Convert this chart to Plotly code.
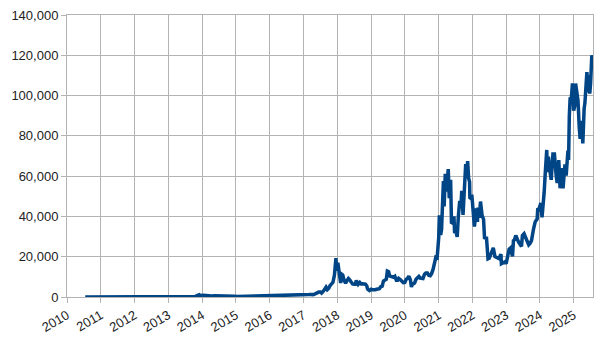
import plotly.graph_objects as go

# Monthly values 2010-07 .. 2016-12 (USD)
early_months = [
    "2010-07-17", "2010-08-15", "2010-09-15", "2010-10-15", "2010-11-15", "2010-12-15",
    "2011-01-15", "2011-02-15", "2011-03-15", "2011-04-15", "2011-05-15", "2011-06-10",
    "2011-07-15", "2011-08-15", "2011-09-15", "2011-10-15", "2011-11-15", "2011-12-15",
    "2012-01-15", "2012-02-15", "2012-03-15", "2012-04-15", "2012-05-15", "2012-06-15",
    "2012-07-15", "2012-08-15", "2012-09-15", "2012-10-15", "2012-11-15", "2012-12-15",
    "2013-01-15", "2013-02-15", "2013-03-15", "2013-04-10", "2013-05-15", "2013-06-15",
    "2013-07-15", "2013-08-15", "2013-09-15", "2013-10-15", "2013-11-30", "2013-12-15",
    "2014-01-15", "2014-02-15", "2014-03-15", "2014-04-15", "2014-05-15", "2014-06-15",
    "2014-07-15", "2014-08-15", "2014-09-15", "2014-10-15", "2014-11-15", "2014-12-15",
    "2015-01-15", "2015-02-15", "2015-03-15", "2015-04-15", "2015-05-15", "2015-06-15",
    "2015-07-15", "2015-08-15", "2015-09-15", "2015-10-15", "2015-11-15", "2015-12-15",
    "2016-01-15", "2016-02-15", "2016-03-15", "2016-04-15", "2016-05-15", "2016-06-15",
    "2016-07-15", "2016-08-15", "2016-09-15", "2016-10-15", "2016-11-15", "2016-12-15",
]
early_prices = [
    0.07, 0.07, 0.06, 0.1, 0.28, 0.3,
    0.5, 0.9, 0.9, 1.5, 8, 29,
    14, 10, 5, 3.3, 2.5, 4.2,
    5.5, 5, 4.9, 4.9, 5.1, 6.6,
    8.9, 10.5, 12.4, 11.2, 12.5, 13.5,
    20, 33, 93, 230, 129, 97,
    106, 135, 133, 200, 1150, 750,
    850, 570, 450, 450, 630, 640,
    590, 480, 390, 340, 380, 320,
    220, 255, 245, 235, 230, 265,
    285, 230, 237, 315, 370, 430,
    370, 435, 415, 450, 530, 670,
    625, 575, 610, 700, 745, 960,
]

# Semi-monthly / event values 2017 .. 2025 (USD)
late_dates = [
    "2017-01-01", "2017-01-15", "2017-02-01", "2017-02-15", "2017-03-01", "2017-03-15",
    "2017-04-01", "2017-04-15", "2017-05-01", "2017-05-15", "2017-06-01", "2017-06-15",
    "2017-07-01", "2017-07-15", "2017-08-01", "2017-08-15", "2017-09-01", "2017-09-15",
    "2017-10-01", "2017-10-15", "2017-11-01", "2017-11-15", "2017-12-01", "2017-12-08",
    "2017-12-17", "2017-12-22",
    "2018-01-01", "2018-01-07", "2018-01-15", "2018-02-01", "2018-02-06", "2018-02-20",
    "2018-03-01", "2018-03-15", "2018-04-01", "2018-04-15", "2018-05-01", "2018-05-15",
    "2018-06-01", "2018-06-15", "2018-07-01", "2018-07-15", "2018-07-25", "2018-08-15",
    "2018-09-01", "2018-09-15", "2018-10-01", "2018-10-15", "2018-11-01", "2018-11-15",
    "2018-11-25", "2018-12-15",
    "2019-01-01", "2019-01-15", "2019-02-01", "2019-02-15", "2019-03-01", "2019-03-15",
    "2019-04-01", "2019-04-15", "2019-05-01", "2019-05-15", "2019-06-01", "2019-06-15",
    "2019-06-26", "2019-07-10", "2019-07-20", "2019-08-01", "2019-08-15", "2019-09-01",
    "2019-09-15", "2019-10-01", "2019-10-15", "2019-10-26", "2019-11-15", "2019-12-01",
    "2019-12-15",
    "2020-01-01", "2020-01-15", "2020-02-01", "2020-02-13", "2020-03-01", "2020-03-12",
    "2020-03-20", "2020-04-01", "2020-04-15", "2020-05-01", "2020-05-15", "2020-06-01",
    "2020-06-15", "2020-07-01", "2020-07-15", "2020-08-01", "2020-08-15", "2020-09-01",
    "2020-09-15", "2020-10-01", "2020-10-15", "2020-11-01", "2020-11-15", "2020-12-01",
    "2020-12-15",
    "2021-01-01", "2021-01-08", "2021-01-22", "2021-02-01", "2021-02-15", "2021-02-21",
    "2021-03-01", "2021-03-13", "2021-03-25", "2021-04-01", "2021-04-14", "2021-04-25",
    "2021-05-01", "2021-05-10", "2021-05-19", "2021-06-01", "2021-06-15", "2021-06-22",
    "2021-07-01", "2021-07-20", "2021-08-01", "2021-08-15", "2021-09-01", "2021-09-07",
    "2021-09-21", "2021-10-01", "2021-10-20", "2021-11-01", "2021-11-10", "2021-11-20",
    "2021-12-01", "2021-12-04", "2021-12-15", "2021-12-25",
    "2022-01-01", "2022-01-22", "2022-02-01", "2022-02-10", "2022-02-24", "2022-03-01",
    "2022-03-15", "2022-03-29", "2022-04-15", "2022-05-01", "2022-05-12", "2022-06-01",
    "2022-06-18", "2022-07-01", "2022-07-15", "2022-08-01", "2022-08-14", "2022-09-01",
    "2022-09-15", "2022-10-01", "2022-10-15", "2022-11-05", "2022-11-10", "2022-12-01",
    "2022-12-15", "2022-12-31",
    "2023-01-15", "2023-02-01", "2023-02-15", "2023-03-10", "2023-03-20", "2023-04-01",
    "2023-04-14", "2023-05-01", "2023-05-15", "2023-06-15", "2023-06-25", "2023-07-13",
    "2023-08-01", "2023-08-17", "2023-09-01", "2023-09-15", "2023-10-01", "2023-10-24",
    "2023-11-10", "2023-12-01", "2023-12-08", "2023-12-20",
    "2024-01-10", "2024-01-23", "2024-02-01", "2024-02-15", "2024-02-28", "2024-03-14",
    "2024-03-20", "2024-04-01", "2024-04-15", "2024-05-01", "2024-05-20", "2024-06-05",
    "2024-06-24", "2024-07-05", "2024-07-22", "2024-08-05", "2024-08-25", "2024-09-06",
    "2024-09-27", "2024-10-10", "2024-10-29", "2024-11-05", "2024-11-13", "2024-11-22",
    "2024-12-05", "2024-12-17", "2024-12-30",
    "2025-01-10", "2025-01-20", "2025-02-01", "2025-02-15", "2025-02-28", "2025-03-10",
    "2025-03-25", "2025-04-08", "2025-04-22", "2025-05-01", "2025-05-22", "2025-06-05",
    "2025-06-10", "2025-06-22", "2025-07-01", "2025-07-14", "2025-07-20", "2025-07-27",
]
late_prices = [
    1000, 820, 970, 1010, 1190, 1250,
    1080, 1180, 1420, 1750, 2400, 2450,
    2500, 1950, 2730, 4200, 4900, 3700,
    4400, 5700, 6700, 7300, 10900, 16000,
    19300, 14000,
    13500, 17000, 13800, 9100, 7000, 11200,
    10900, 8300, 6900, 8100, 9200, 8500,
    7500, 6500, 6350, 6350, 8200, 6300,
    7200, 6500, 6600, 6400, 6350, 5600,
    3900, 3200,
    3850, 3600, 3450, 3600, 3850, 3950,
    4100, 5100, 5350, 7900, 8550, 8800,
    12900, 12600, 10500, 10400, 10200, 9800,
    10300, 8300, 8300, 9200, 8500, 7400,
    7100,
    7200, 8800, 9350, 10300, 8600, 4900,
    6200, 6600, 6900, 8800, 9300, 10200,
    9400, 9200, 9200, 11300, 11900, 11900,
    10800, 10600, 11500, 13700, 16000, 19700,
    19400,
    29300, 40500, 30800, 33500, 48800, 57500,
    45000, 61200, 52300, 58800, 63500, 49000,
    57800, 58200, 37000, 36700, 40100, 31700,
    33500, 29800, 39800, 47000, 47100, 52700,
    40700, 48200, 66000, 61300, 67500, 59000,
    57200, 49300, 48900, 50800,
    47700, 35000, 38700, 44000, 37300, 44400,
    39300, 47400, 40500, 38500, 28900, 29800,
    19000, 19300, 20800, 23300, 24400, 20100,
    19700, 19300, 19100, 21300, 16500, 17000,
    17400, 16500,
    20900, 23700, 24300, 20200, 28000, 28400,
    30500, 28000, 27200, 25100, 30500, 31400,
    29200, 26600, 25900, 26600, 28000, 34000,
    37300, 38700, 44000, 43600,
    46600, 39500, 43000, 52000, 62400, 73000,
    62000, 69700, 63400, 58200, 71000, 71000,
    60300, 56600, 68000, 54000, 64000, 53900,
    65800, 60300, 72700, 68000, 90000, 99000,
    98500, 106100, 92500,
    94700, 106000, 100600, 97500, 84300, 78500,
    87400, 76300, 93400, 96500, 111600, 101600,
    110200, 101000, 106000, 120000, 117500, 118000,
]

dates = early_months + late_dates
prices = early_prices + late_prices

years = [str(y) for y in range(2010, 2026)]

fig = go.Figure()
fig.add_trace(go.Scatter(
    x=dates, y=prices, mode="lines",
    line=dict(color="#004586", width=3.5),
    showlegend=False,
))

grid = "#b3b3b3"
fig.update_layout(
    width=605, height=341,
    margin=dict(l=67, r=12, t=15, b=44),
    paper_bgcolor="white", plot_bgcolor="white",
    font=dict(family="Liberation Sans", size=13, color="#222222"),
)
fig.update_xaxes(
    type="date",
    range=["2010-01-01", "2025-07-27"],
    tickvals=[y + "-01-01" for y in years],
    ticktext=years,
    tickangle=-30,
    automargin=False,
    showgrid=True, gridcolor=grid, gridwidth=1,
    showline=True, linecolor=grid, linewidth=1, mirror=True,
    ticks="outside", ticklen=5, tickcolor=grid,
    zeroline=False,
)
fig.update_yaxes(
    range=[0, 140000],
    dtick=20000, tickformat=",d",
    automargin=False,
    showgrid=True, gridcolor=grid, gridwidth=1,
    showline=True, linecolor=grid, linewidth=1, mirror=True,
    ticks="outside", ticklen=5, tickcolor=grid,
    zeroline=False,
)

fig.write_html("out.html")
